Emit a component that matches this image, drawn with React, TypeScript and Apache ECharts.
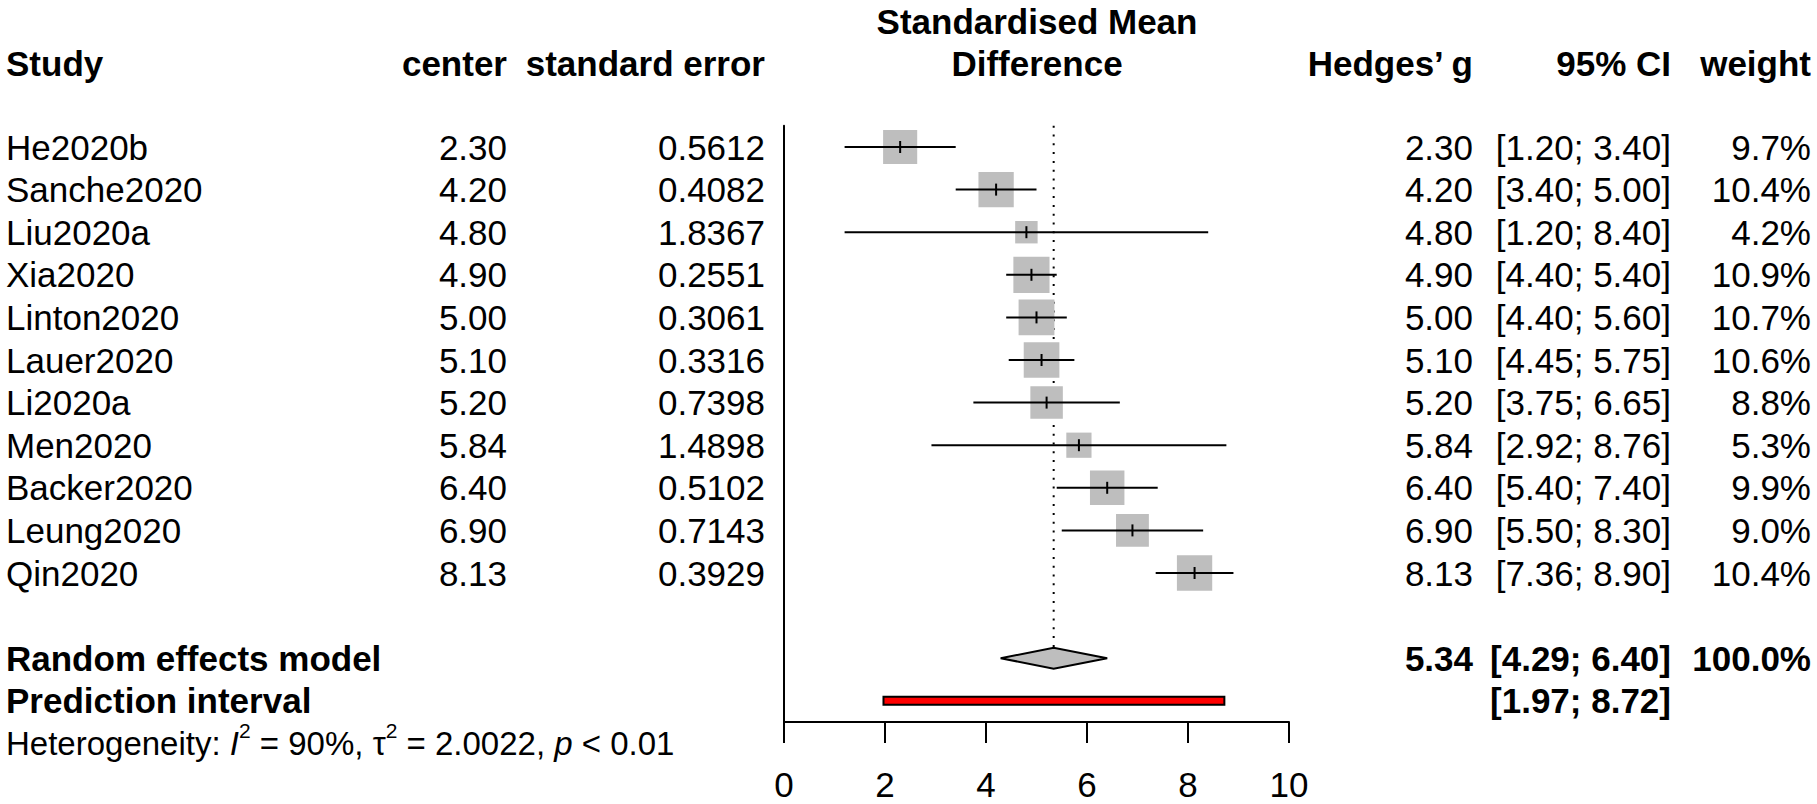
import React, { useEffect, useRef } from "react";
import * as echarts from "echarts";

// ---------- data ----------
const studies = ["He2020b", "Sanche2020", "Liu2020a", "Xia2020", "Linton2020", "Lauer2020", "Li2020a", "Men2020", "Backer2020", "Leung2020", "Qin2020"];
const centers = [2.3, 4.2, 4.8, 4.9, 5.0, 5.1, 5.2, 5.84, 6.4, 6.9, 8.13];
const stdErrors = [0.5612, 0.4082, 1.8367, 0.2551, 0.3061, 0.3316, 0.7398, 1.4898, 0.5102, 0.7143, 0.3929];
const hedgesG = [2.3, 4.2, 4.8, 4.9, 5.0, 5.1, 5.2, 5.84, 6.4, 6.9, 8.13];
const ciLower = [1.2, 3.4, 1.2, 4.4, 4.4, 4.45, 3.75, 2.92, 5.4, 5.5, 7.36];
const ciUpper = [3.4, 5.0, 8.4, 5.4, 5.6, 5.75, 6.65, 8.76, 7.4, 8.3, 8.9];
const weights = [9.7, 10.4, 4.2, 10.9, 10.7, 10.6, 8.8, 5.3, 9.9, 9.0, 10.4];
const pooled = [4.29, 5.34, 6.4]; // lower, estimate, upper
const pooledWeight = 100.0;
const prediction = [1.97, 8.72];
const heterogeneityI2 = "90%";
const heterogeneityTau2 = "2.0022";
const heterogeneityP = "< 0.01";
const xTicks = [0, 2, 4, 6, 8, 10];
const headers = ["Study", "center", "standard error", "Standardised Mean", "Difference", "Hedges’ g", "95% CI", "weight"];

// ---------- layout ----------
const FONT = "'Liberation Sans', Arial, Helvetica, sans-serif";
const FS = 35;
const COL_STUDY = 6;
const COL_CENTER = 507;
const COL_SE = 765;
const COL_PLOT_MID = 1037;
const COL_G = 1473;
const COL_CI = 1671;
const COL_W = 1811;

const ROW_POOLED = studies.length + 1;
const ROW_PRED = studies.length + 2;
const ROW_HET = studies.length + 3;

type Cell = { row: number; x: number; text: string; bold?: boolean; align: "left" | "right" | "center"; rich?: boolean };

const fmtCI = (lo: number, hi: number) => `[${lo.toFixed(2)}; ${hi.toFixed(2)}]`;

function buildCells(): Cell[] {
  const cells: Cell[] = [];
  const hRow = -1.95;
  cells.push({ row: hRow, x: COL_STUDY, text: headers[0], bold: true, align: "left" });
  cells.push({ row: hRow, x: COL_CENTER, text: headers[1], bold: true, align: "right" });
  cells.push({ row: hRow, x: COL_SE, text: headers[2], bold: true, align: "right" });
  cells.push({ row: hRow - 1, x: COL_PLOT_MID, text: headers[3], bold: true, align: "center" });
  cells.push({ row: hRow, x: COL_PLOT_MID, text: headers[4], bold: true, align: "center" });
  cells.push({ row: hRow, x: COL_G, text: headers[5], bold: true, align: "right" });
  cells.push({ row: hRow, x: COL_CI, text: headers[6], bold: true, align: "right" });
  cells.push({ row: hRow, x: COL_W, text: headers[7], bold: true, align: "right" });
  studies.forEach((s, i) => {
    cells.push({ row: i, x: COL_STUDY, text: s, align: "left" });
    cells.push({ row: i, x: COL_CENTER, text: centers[i].toFixed(2), align: "right" });
    cells.push({ row: i, x: COL_SE, text: stdErrors[i].toFixed(4), align: "right" });
    cells.push({ row: i, x: COL_G, text: hedgesG[i].toFixed(2), align: "right" });
    cells.push({ row: i, x: COL_CI, text: fmtCI(ciLower[i], ciUpper[i]), align: "right" });
    cells.push({ row: i, x: COL_W, text: weights[i].toFixed(1) + "%", align: "right" });
  });
  cells.push({ row: ROW_POOLED, x: COL_STUDY, text: "Random effects model", bold: true, align: "left" });
  cells.push({ row: ROW_POOLED, x: COL_G, text: pooled[1].toFixed(2), bold: true, align: "right" });
  cells.push({ row: ROW_POOLED, x: COL_CI, text: fmtCI(pooled[0], pooled[2]), bold: true, align: "right" });
  cells.push({ row: ROW_POOLED, x: COL_W, text: pooledWeight.toFixed(1) + "%", bold: true, align: "right" });
  cells.push({ row: ROW_PRED, x: COL_STUDY, text: "Prediction interval", bold: true, align: "left" });
  cells.push({ row: ROW_PRED, x: COL_CI, text: fmtCI(prediction[0], prediction[1]), bold: true, align: "right" });
  cells.push({
    row: ROW_HET,
    x: COL_STUDY,
    text: `Heterogeneity: {i|I}{sup|2} = ${heterogeneityI2}, τ{sup|2} = ${heterogeneityTau2}, {i|p} ${heterogeneityP}`,
    align: "left",
    rich: true,
  });
  return cells;
}

export default function App() {
  const ref = useRef<HTMLDivElement>(null);

  useEffect(() => {
    if (!ref.current) return;
    const chart = echarts.init(ref.current, undefined, { renderer: "svg" });
    const cells = buildCells();

    const option: any = {
      animation: false,
      backgroundColor: "#ffffff",
      grid: { left: 784, width: 505, top: 125.7, height: 596.4, containLabel: false },
      xAxis: {
        type: "value",
        min: xTicks[0],
        max: xTicks[xTicks.length - 1],
        interval: 2,
        splitLine: { show: false },
        axisLine: { show: true, onZero: false, lineStyle: { color: "#000", width: 2 } },
        axisTick: { show: true, length: 21, lineStyle: { color: "#000", width: 2 } },
        axisLabel: { color: "#000", fontSize: FS, fontFamily: FONT, margin: 45 },
      },
      yAxis: {
        type: "value",
        min: -0.5,
        max: 13.5,
        inverse: true,
        splitLine: { show: false },
        axisLine: { show: true, onZero: false, lineStyle: { color: "#000", width: 2 } },
        axisTick: { show: false },
        axisLabel: { show: false },
      },
      series: [
        // dotted reference line at pooled estimate
        {
          type: "custom",
          clip: false,
          z: 1,
          data: [[pooled[1], -0.5, ROW_POOLED]],
          encode: { x: 0, y: [1, 2] },
          renderItem: (params: any, api: any) => {
            const top = api.coord([api.value(0), api.value(1)]);
            const bot = api.coord([api.value(0), api.value(2)]);
            return {
              type: "line",
              shape: { x1: top[0], y1: top[1], x2: bot[0], y2: bot[1] - 11 },
              style: { stroke: "#000", lineWidth: 2, lineDash: [2, 6.8] },
            };
          },
        },
        // weight squares
        {
          type: "scatter",
          z: 2,
          symbol: "rect",
          symbolSize: (val: number[]) => 10.95 * Math.sqrt(val[2]),
          itemStyle: { color: "#bebebe", opacity: 1 },
          data: hedgesG.map((g, i) => [g, i, weights[i]]),
          silent: true,
        },
        // confidence intervals
        {
          type: "custom",
          clip: false,
          z: 3,
          data: studies.map((_, i) => [ciLower[i], ciUpper[i], hedgesG[i], i]),
          encode: { x: [0, 1, 2], y: 3 },
          renderItem: (params: any, api: any) => {
            const row = api.value(3);
            const p1 = api.coord([api.value(0), row]);
            const p2 = api.coord([api.value(1), row]);
            const pc = api.coord([api.value(2), row]);
            return {
              type: "group",
              children: [
                { type: "line", shape: { x1: p1[0], y1: p1[1], x2: p2[0], y2: p2[1] }, style: { stroke: "#000", lineWidth: 2 } },
                { type: "line", shape: { x1: pc[0], y1: pc[1] - 6, x2: pc[0], y2: pc[1] + 6 }, style: { stroke: "#000", lineWidth: 2 } },
              ],
            };
          },
        },
        // pooled diamond
        {
          type: "custom",
          clip: false,
          z: 3,
          data: [[pooled[0], pooled[1], pooled[2], ROW_POOLED]],
          encode: { x: [0, 1, 2], y: 3 },
          renderItem: (params: any, api: any) => {
            const row = api.value(3);
            const l = api.coord([api.value(0), row]);
            const c = api.coord([api.value(1), row]);
            const r = api.coord([api.value(2), row]);
            const h = 10.5;
            return {
              type: "polygon",
              shape: { points: [[l[0], l[1]], [c[0], c[1] - h], [r[0], r[1]], [c[0], c[1] + h]] },
              style: { fill: "#bebebe", stroke: "#000", lineWidth: 2 },
            };
          },
        },
        // prediction interval
        {
          type: "custom",
          clip: false,
          z: 3,
          data: [[prediction[0], prediction[1], ROW_PRED]],
          encode: { x: [0, 1], y: 2 },
          renderItem: (params: any, api: any) => {
            const row = api.value(2);
            const l = api.coord([api.value(0), row]);
            const r = api.coord([api.value(1), row]);
            return {
              type: "rect",
              shape: { x: l[0], y: l[1] - 4, width: r[0] - l[0], height: 8 },
              style: { fill: "#ff0000", stroke: "#000", lineWidth: 2 },
            };
          },
        },
        // table texts
        {
          type: "custom",
          clip: false,
          z: 4,
          silent: true,
          data: cells.map((c) => [0, c.row]),
          encode: { x: 0, y: 1 },
          renderItem: (params: any, api: any) => {
            const cell = cells[params.dataIndex];
            const y = api.coord([0, api.value(1)])[1];
            const style: any = {
              text: cell.text,
              fill: "#000",
              fontSize: FS,
              fontFamily: FONT,
              fontWeight: cell.bold ? "bold" : "normal",
              align: cell.align,
              verticalAlign: "middle",
            };
            if (cell.rich) {
              style.fontSize = 33;
              style.lineHeight = 46;
              style.rich = {
                i: { fontStyle: "italic", fontSize: 33, fontFamily: FONT, lineHeight: 46 },
                sup: { fontSize: 21, fontFamily: FONT, verticalAlign: "top", lineHeight: 24 },
              };
            }
            return { type: "text", x: cell.x, y, style };
          },
        },
      ],
    };
    chart.setOption(option);
    return () => chart.dispose();
  }, []);

  return <div ref={ref} style={{ position: "absolute", left: 0, top: 0, width: 1817, height: 804, background: "#fff" }} />;
}
